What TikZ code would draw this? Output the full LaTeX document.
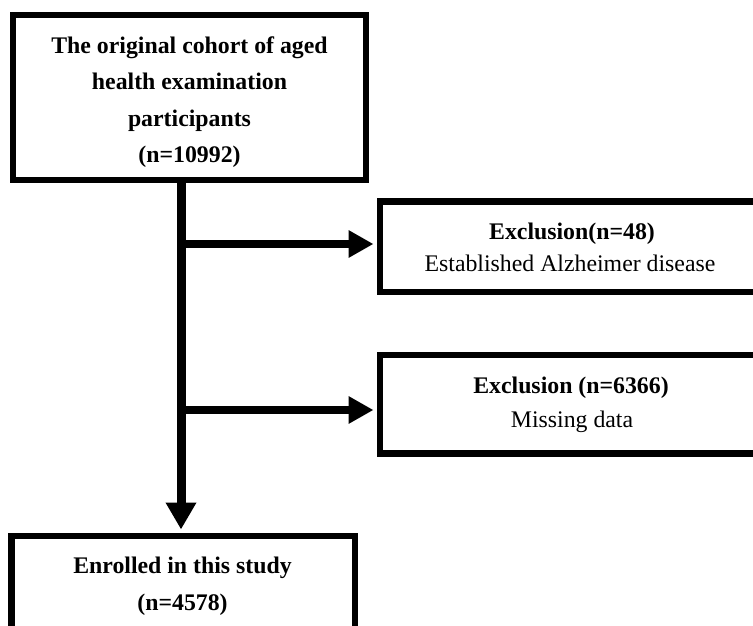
\documentclass[tikz,border=0pt]{standalone}
\usepackage{fontspec}
\setmainfont{Liberation Serif}
\usetikzlibrary{arrows.meta}
\tikzset{
  boxnode/.style={draw=black, line width=6.5pt, rectangle, inner sep=0pt, fill=white},
  txt/.style={anchor=base, inner sep=0pt, font=\fontsize{23.8}{30}\selectfont},
  btxt/.style={txt, font=\fontsize{23.8}{30}\selectfont\bfseries},
  flow/.style={line width=8pt, -{Triangle[length={25pt 0 0}, width={26pt 0 0}]}},
  trunk/.style={line width=9pt, -{Triangle[length={27pt 0 0}, width={29pt 0 0}]}}
}
\begin{document}
\begin{tikzpicture}[x=1pt, y=-1pt]
\useasboundingbox (0,0) rectangle (753,626);
\clip (0,0) rectangle (753,626);
\fill[white] (0,0) rectangle (753,626);
% boxes
\node[boxnode, minimum width=353pt, minimum height=165pt] (top) at (189.5,97.5) {};
\node[boxnode, minimum width=420pt, minimum height=90.5pt] (ex1) at (590,246.75) {};
\node[boxnode, minimum width=420pt, minimum height=98.5pt] (ex2) at (590,404.25) {};
\node[boxnode, minimum width=343.5pt, minimum height=160pt] (enr) at (183.25,616) {};
% texts
\node[btxt] (t1) at (189.5,54) {The original cohort of aged};
\node[btxt] (t2) at (189.5,90) {health examination};
\node[btxt] (t3) at (189.5,126) {participants};
\node[btxt] (t4) at (189.5,162) {(n=10992)};
\node[btxt] (e1a) at (572,239) {Exclusion(n=48)};
\node[txt] (e1b) at (570,271) {Established Alzheimer disease};
\node[btxt] (e2a) at (571,393) {Exclusion (n=6366)};
\node[txt] (e2b) at (572,427) {Missing data};
\node[btxt] (n1) at (182.5,573) {Enrolled in this study};
\node[btxt] (n2) at (182.5,610) {(n=4578)};
% connectors
\coordinate (j) at (181,0);
\coordinate (j1) at (181,244);
\coordinate (j2) at (181,410);
\draw[trunk, shorten >=3.25pt, shorten <=-3pt] (top.south -| j) -- (enr.north -| j);
\draw[flow, shorten >=3.25pt] (j1) -- (ex1.west |- j1);
\draw[flow, shorten >=3.25pt] (j2) -- (ex2.west |- j2);
\end{tikzpicture}
\end{document}
